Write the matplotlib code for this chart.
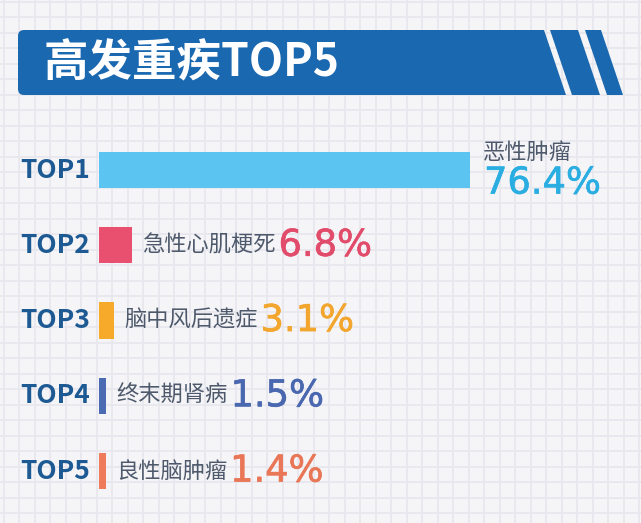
import matplotlib.pyplot as plt
import matplotlib.patheffects as pe
from matplotlib.patches import FancyBboxPatch, Polygon, Rectangle
import numpy as np

plt.rcParams['font.family'] = ['Noto Sans CJK SC', 'DejaVu Sans']

title = "高发重疾TOP5"
ranks = ["TOP1", "TOP2", "TOP3", "TOP4", "TOP5"]
diseases = ["恶性肿瘤", "急性心肌梗死", "脑中风后遗症", "终末期肾病", "良性脑肿瘤"]
shares = [76.4, 6.8, 3.1, 1.5, 1.4]
bar_colors = ["#5bc4f0", "#e9506f", "#f7aa2a", "#4b6cb3", "#ee7b59"]
value_colors = ["#2aaee2", "#e24c6b", "#f2a62e", "#4a68b0", "#e97656"]

W, H = 641, 523
fig = plt.figure(figsize=(W / 100, H / 100), dpi=100)

# background layer in pixel units: paper grid + title banner
bg = fig.add_axes([0, 0, 1, 1])
bg.set_xlim(0, W)
bg.set_ylim(H, 0)
bg.axis('off')
bg.add_patch(Rectangle((0, 0), W, H, color='#f5f5f8', zorder=0))
for gx in np.arange(3.5, W, 15.5):
    bg.axvline(gx, color='#e7e7ee', lw=1.3, zorder=1)
for gy in np.arange(1.5, H, 15.5):
    bg.axhline(gy, color='#e7e7ee', lw=1.3, zorder=1)

banner = '#1a68b0'
bg.add_patch(FancyBboxPatch((18, 30), 520, 65, boxstyle="round,pad=0,rounding_size=6",
                            fc=banner, ec='none', zorder=2))
bg.add_patch(Polygon([(520, 30), (544, 30), (566, 95), (520, 95)], fc=banner, ec='none', zorder=2))
bg.add_patch(Polygon([(550, 30), (578, 30), (600, 95), (572, 95)], fc=banner, ec='none', zorder=2))
bg.add_patch(Polygon([(585, 30), (601, 30), (623, 95), (607, 95)], fc=banner, ec='none', zorder=2))
bg.text(44, 63, title, color='white', fontsize=32, fontweight='black', va='center', ha='left', zorder=3)

# bar area: x=0 sits at pixel 99, the longest bar ends at pixel 470
x0_px, x1_px = 99, 470
ax = fig.add_axes([x0_px / W, (H - 510) / H, (W - x0_px) / W, 380 / H])
ax.patch.set_alpha(0)
ax.set_xlim(0, shares[0] * (W - x0_px) / (x1_px - x0_px))
ax.set_ylim(4.518, -0.532)
ax.axis('off')

ypos = np.arange(len(shares))
ax.barh(ypos, shares, height=0.48, color=bar_colors)

for i, (rank, name, val) in enumerate(zip(ranks, diseases, shares)):
    ax.annotate(rank, xy=(0, i), xytext=(-9, 0), textcoords='offset pixels',
                ha='right', va='center', fontsize=19, fontweight='bold', color='#1d5a93')
    label = f"{val}%"
    # regular weight thickened a little with an outline of the same colour
    value_style = dict(family='DejaVu Sans', fontsize=26.5, color=value_colors[i],
                       path_effects=[pe.withStroke(linewidth=0.5, foreground=value_colors[i])])
    if i == 0:
        ax.annotate(name, xy=(val, i), xytext=(13, 18), textcoords='offset pixels',
                    ha='left', va='center', fontsize=16, color='#4e5a6c')
        ax.annotate(label, xy=(val, i), xytext=(14, -13), textcoords='offset pixels',
                    ha='left', va='center', **value_style)
    else:
        t = ax.annotate(name, xy=(val, i), xytext=(10, 0), textcoords='offset pixels',
                        ha='left', va='center', fontsize=16, color='#4e5a6c')
        ax.annotate(label, xy=(1, 0.5), xycoords=t, xytext=(3, 0), textcoords='offset pixels',
                    ha='left', va='center', **value_style)

fig.savefig('out.png', dpi=100)
